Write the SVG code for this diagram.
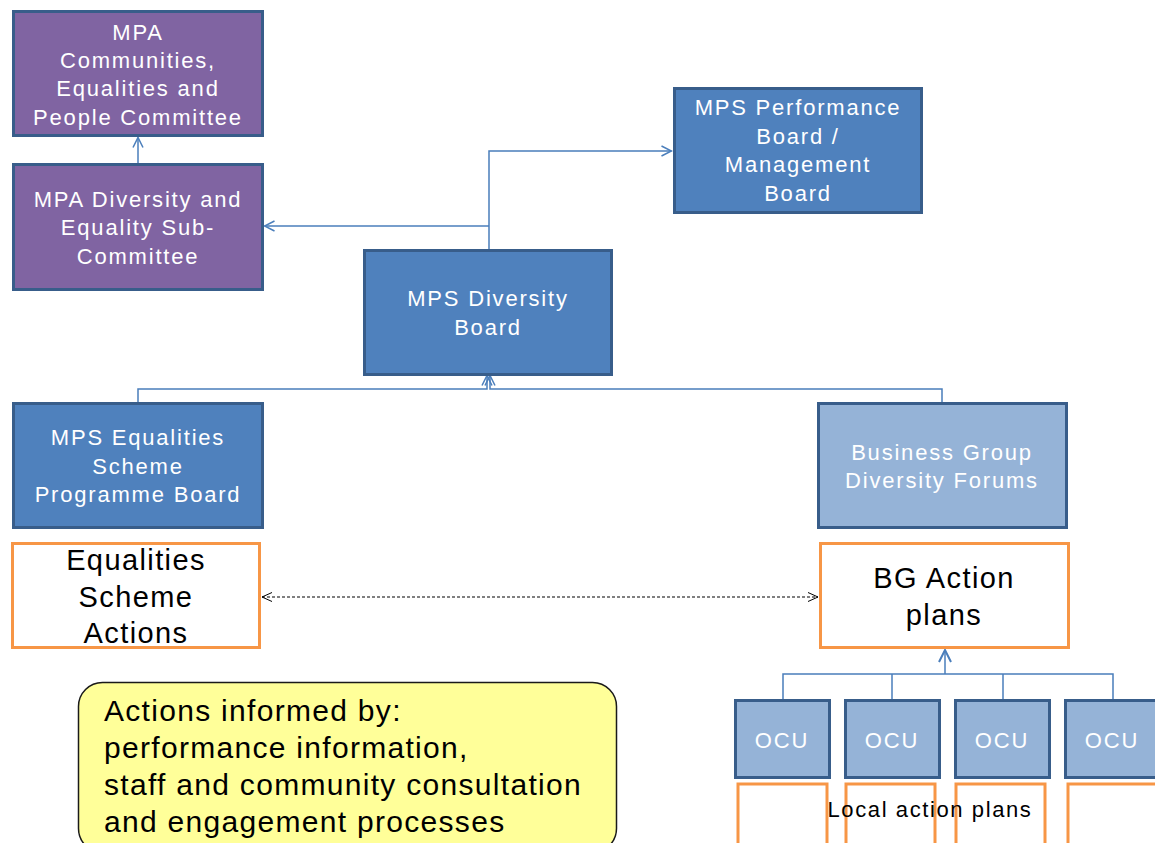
<svg xmlns="http://www.w3.org/2000/svg" width="1155" height="843" viewBox="0 0 1155 843">
  <style>
    .box { stroke: #385d8a; stroke-width: 3; }
    .purple { fill: #8064a2; }
    .blue { fill: #4f81bd; }
    .light { fill: #95b3d7; }
    .plan { fill: #ffffff; stroke: #f79646; stroke-width: 3; }
    .lbl { font-family: "Liberation Sans", Arial, sans-serif; font-size: 22px; letter-spacing: 1.8px; fill: #ffffff; text-anchor: middle; }
    .big { font-family: "Liberation Sans", Arial, sans-serif; font-size: 29px; letter-spacing: 1.4px; fill: #000000; text-anchor: middle; }
    .note { font-family: "Liberation Sans", Arial, sans-serif; font-size: 30px; letter-spacing: 1.3px; fill: #000000; }
    .small { font-family: "Liberation Sans", Arial, sans-serif; font-size: 22px; letter-spacing: 1.6px; fill: #000000; text-anchor: middle; }
    .conn { fill: none; stroke: #4a7ebb; stroke-width: 1.5; }
    .dash { fill: none; stroke: #000000; stroke-width: 1; stroke-dasharray: 3 2; }
  </style>
  <defs>
    <marker id="open" viewBox="0 0 12 12" refX="11" refY="6" markerWidth="12" markerHeight="12" markerUnits="userSpaceOnUse" orient="auto">
      <path d="M1,1 L11,6 L1,11" fill="none" stroke="#4a7ebb" stroke-width="1.5"/>
    </marker>
    <marker id="openBig" viewBox="0 0 14 14" refX="13" refY="7" markerWidth="14" markerHeight="14" markerUnits="userSpaceOnUse" orient="auto">
      <path d="M1,1 L13,7 L1,13" fill="none" stroke="#4a7ebb" stroke-width="2"/>
    </marker>
    <marker id="black" viewBox="0 0 12 12" refX="11" refY="6" markerWidth="12" markerHeight="12" markerUnits="userSpaceOnUse" orient="auto-start-reverse">
      <path d="M1,1.5 L11,6 L1,10.5" fill="none" stroke="#000000" stroke-width="1"/>
    </marker>
  </defs>

  <rect width="1155" height="843" fill="#ffffff"/>

  <!-- connectors -->
  <g id="connectors">
    <line class="conn" x1="138" y1="163" x2="138" y2="137.5" marker-end="url(#open)"/>
    <polyline class="conn" points="489,250 489,151 671.5,151" marker-end="url(#open)"/>
    <polyline class="conn" points="489,226 264.5,226" marker-end="url(#open)"/>
    <polyline class="conn" points="138,402 138,389 487,389 487,375.5" marker-end="url(#open)"/>
    <polyline class="conn" points="942,402 942,389 490,389 490,375.5" marker-end="url(#open)"/>
    <line class="dash" x1="262" y1="597" x2="818" y2="597" marker-start="url(#black)" marker-end="url(#black)"/>
    <polyline class="conn" points="783,700 783,674 1113,674 1113,700"/>
    <line class="conn" x1="892" y1="674" x2="892" y2="700"/>
    <line class="conn" x1="1003" y1="674" x2="1003" y2="700"/>
    <line class="conn" x1="945" y1="674" x2="945" y2="650" stroke-width="2" marker-end="url(#openBig)"/>
  </g>

  <g id="mpa-cep">
    <rect class="box purple" x="13.5" y="11.5" width="249" height="124"/>
    <text class="lbl" x="138" y="40">MPA</text>
    <text class="lbl" x="138" y="68">Communities,</text>
    <text class="lbl" x="138" y="96">Equalities and</text>
    <text class="lbl" x="138" y="125">People Committee</text>
  </g>

  <g id="mpa-des">
    <rect class="box purple" x="13.5" y="164.5" width="249" height="125"/>
    <text class="lbl" x="138" y="207">MPA Diversity and</text>
    <text class="lbl" x="138" y="235">Equality Sub-</text>
    <text class="lbl" x="138" y="264">Committee</text>
  </g>

  <g id="mps-performance">
    <rect class="box blue" x="674.5" y="88.5" width="247" height="124"/>
    <text class="lbl" x="798" y="115">MPS Performance</text>
    <text class="lbl" x="798" y="144">Board /</text>
    <text class="lbl" x="798" y="172">Management</text>
    <text class="lbl" x="798" y="201">Board</text>
  </g>

  <g id="mps-diversity">
    <rect class="box blue" x="364.5" y="250.5" width="247" height="124"/>
    <text class="lbl" x="488" y="306">MPS Diversity</text>
    <text class="lbl" x="488" y="335">Board</text>
  </g>

  <g id="mps-equalities">
    <rect class="box blue" x="13.5" y="403.5" width="249" height="124"/>
    <text class="lbl" x="138" y="445">MPS Equalities</text>
    <text class="lbl" x="138" y="474">Scheme</text>
    <text class="lbl" x="138" y="502">Programme Board</text>
  </g>

  <g id="bg-forums">
    <rect class="box light" x="818.5" y="403.5" width="248" height="124"/>
    <text class="lbl" x="942" y="460" fill="#f2f2f2">Business Group</text>
    <text class="lbl" x="942" y="488" fill="#f2f2f2">Diversity Forums</text>
  </g>

  <g id="es-actions">
    <rect class="plan" x="12.5" y="543.5" width="247" height="104"/>
    <text class="big" x="136" y="570">Equalities</text>
    <text class="big" x="136" y="607">Scheme</text>
    <text class="big" x="136" y="643">Actions</text>
  </g>

  <g id="bg-actions">
    <rect class="plan" x="820.5" y="543.5" width="248" height="104"/>
    <text class="big" x="944" y="588">BG Action</text>
    <text class="big" x="944" y="625">plans</text>
  </g>

  <g id="ocu-1">
    <rect class="box light" x="735.5" y="700.5" width="94" height="77"/>
    <text class="lbl" x="782" y="748">OCU</text>
  </g>
  <g id="ocu-2">
    <rect class="box light" x="845.5" y="700.5" width="94" height="77"/>
    <text class="lbl" x="892" y="748">OCU</text>
  </g>
  <g id="ocu-3">
    <rect class="box light" x="955.5" y="700.5" width="94" height="77"/>
    <text class="lbl" x="1002" y="748">OCU</text>
  </g>
  <g id="ocu-4">
    <rect class="box light" x="1065.5" y="700.5" width="94" height="77"/>
    <text class="lbl" x="1112" y="748">OCU</text>
  </g>

  <g id="local-plans">
    <rect class="plan" x="738" y="784" width="89" height="70"/>
    <rect class="plan" x="846" y="784" width="89" height="70"/>
    <rect class="plan" x="956" y="784" width="89" height="70"/>
    <rect class="plan" x="1068" y="784" width="89" height="70"/>
    <text class="small" x="930" y="817">Local action plans</text>
  </g>

  <g id="note">
    <rect x="78.5" y="682.5" width="538" height="170" rx="24" ry="24" fill="#ffff99" stroke="#1a1a1a" stroke-width="1.5"/>
    <text class="note" x="104" y="721">Actions informed by:</text>
    <text class="note" x="104" y="758">performance information,</text>
    <text class="note" x="104" y="795">staff and community consultation</text>
    <text class="note" x="104" y="832">and engagement processes</text>
  </g>
</svg>
